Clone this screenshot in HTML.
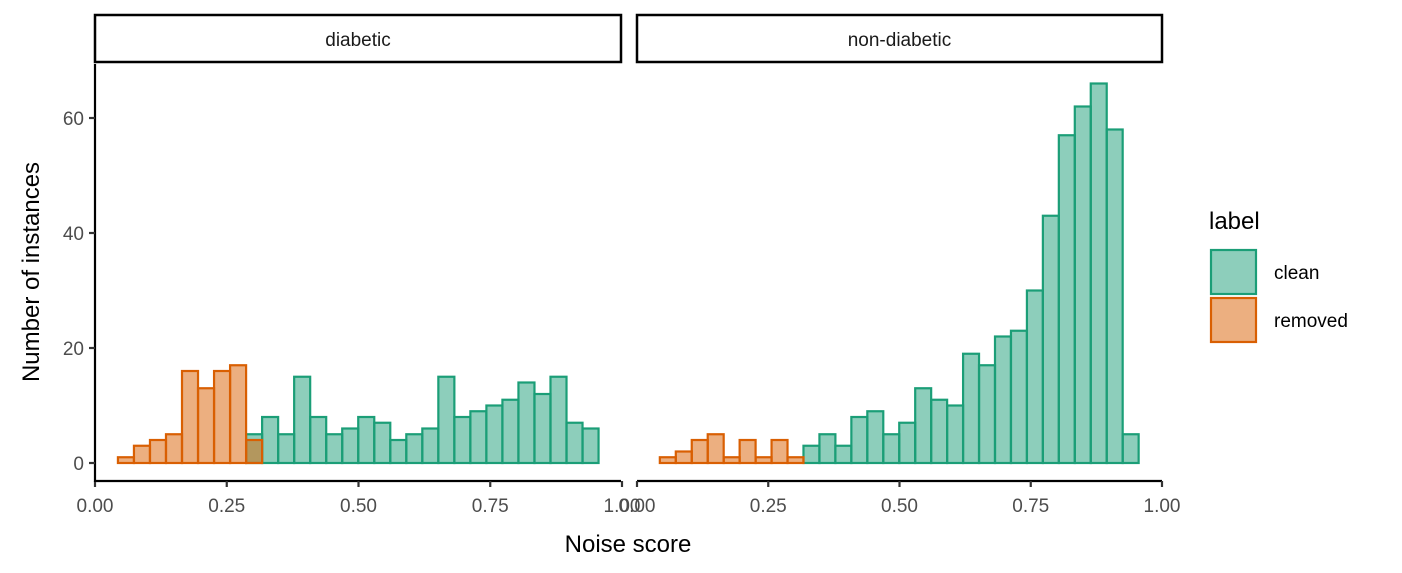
<!DOCTYPE html>
<html><head><meta charset="utf-8"><style>
body{margin:0;background:#fff}
svg{display:block;font-family:"Liberation Sans",Arial,sans-serif}
</style></head><body>
<svg width="1402" height="573" viewBox="0 0 1402 573" id="chart">
<rect width="1402" height="573" fill="#fff"/>
</svg>
<script>
const binStart = 0.0435;
const binWidth = 0.0304;
const diabeticClean = [0,0,0,0,0,0,0,0,5,8,5,15,8,5,6,8,7,4,5,6,15,8,9,10,11,14,12,15,7,6];
const diabeticRemoved = [1,3,4,5,16,13,16,17,4,0,0,0,0,0,0,0,0,0,0,0,0,0,0,0,0,0,0,0,0,0];
const nonClean = [0,0,0,0,0,0,0,0,0,3,5,3,8,9,5,7,13,11,10,19,17,22,23,30,43,57,62,66,58,5];
const nonRemoved = [1,2,4,5,1,4,1,4,1,0,0,0,0,0,0,0,0,0,0,0,0,0,0,0,0,0,0,0,0,0];
const xTicks = [0,0.25,0.5,0.75,1];
const xTickLabels = ["0.00","0.25","0.50","0.75","1.00"];
const yTicks = [0,20,40,60];
const panelNames = ["diabetic","non-diabetic"];

const svg = document.getElementById('chart');
const NS = 'http://www.w3.org/2000/svg';
function mk(tag, attrs, parent){const e=document.createElementNS(NS,tag);for(const k in attrs)e.setAttribute(k,attrs[k]);(parent||svg).appendChild(e);return e;}
const y = v => 463 - v*5.75;
const panels = [
 {x0:95, x1:621, sx:v=>95+v*527, clean:diabeticClean, removed:diabeticRemoved},
 {x0:637, x1:1162, sx:v=>637+v*525, clean:nonClean, removed:nonRemoved}
];
panels.forEach((p,pi)=>{
  const g = mk('g',{});
  
  
  const strip = mk('rect',{x:p.x0,y:15,width:p.x1-p.x0,height:47,fill:'#fff',stroke:'#000','stroke-width':2.5},g);
  
  
  const st = mk('text',{x:(p.x0+p.x1)/2,y:46,'text-anchor':'middle','font-size':19,fill:'#1a1a1a'},g);
  st.textContent = panelNames[pi];
  
  
  [[p.clean,'#1b9e77','clean'],[p.removed,'#d95f02','removed']].forEach(([arr,col,nm])=>{
    arr.forEach((v,i)=>{
      const a = p.sx(binStart+i*binWidth), b = p.sx(binStart+(i+1)*binWidth);
      if(nm==='clean' && v===0) return;
      const r = mk('rect',{x:a,y:y(v),width:b-a,height:Math.max(0,463-y(v)),fill:col,'fill-opacity':0.5,stroke:col,'stroke-width':2.2},g);
      
      
    });
  });
  const ax = mk('line',{x1:p.x0,x2:p.x1,y1:481,y2:481,stroke:'#000','stroke-width':2.2},g);
  
  
  xTicks.forEach((t,i)=>{
    mk('line',{x1:p.sx(t),x2:p.sx(t),y1:481,y2:487,stroke:'#333','stroke-width':2.2},g);
    const tx = mk('text',{x:p.sx(t),y:512,'text-anchor':'middle','font-size':19,fill:'#4d4d4d'},g);
    tx.textContent = xTickLabels[i];
    
    
  });
});
const yl = mk('line',{x1:95,x2:95,y1:64,y2:482,stroke:'#000','stroke-width':2.2});


yTicks.forEach(t=>{
  mk('line',{x1:89,x2:95,y1:y(t),y2:y(t),stroke:'#333','stroke-width':2.2});
  const tx = mk('text',{x:84,y:y(t)+7,'text-anchor':'end','font-size':19,fill:'#4d4d4d'});
  tx.textContent = String(t);
  
  
});
const xt = mk('text',{x:628,y:552,'text-anchor':'middle','font-size':24,fill:'#000'});
xt.textContent='Noise score';


const ytt = mk('text',{x:0,y:0,'text-anchor':'middle','font-size':24,fill:'#000',transform:'translate(39,272) rotate(-90)'});
ytt.textContent='Number of instances';


const lt = mk('text',{x:1209,y:229,'font-size':24,fill:'#000'});
lt.textContent='label';


[['clean','#1b9e77',250],['removed','#d95f02',298]].forEach(([nm,col,yy])=>{
  const r = mk('rect',{x:1211,y:yy,width:45,height:44,fill:col,'fill-opacity':0.5,stroke:col,'stroke-width':2.2});
  
  
  const t = mk('text',{x:1274,y:yy+29,'font-size':19,fill:'#000'});
  t.textContent = nm;
  
  
});
</script>
</body></html>
